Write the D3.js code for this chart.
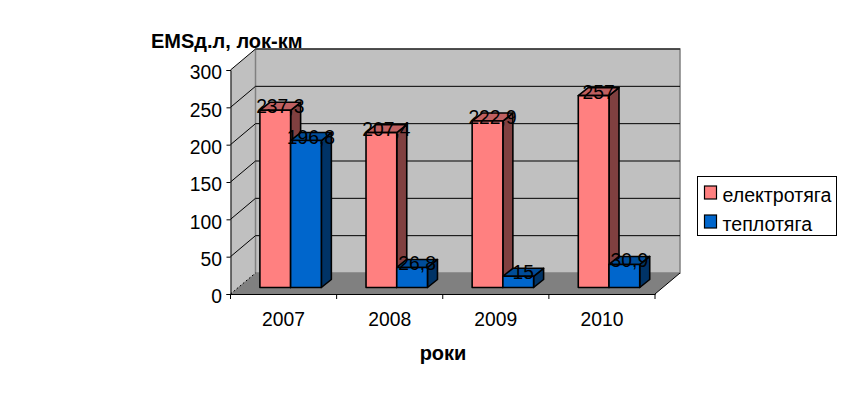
<!DOCTYPE html>
<html>
<head>
<meta charset="utf-8">
<script src="https://cdn.jsdelivr.net/npm/d3@7"></script>
<style>
    html, body { margin: 0; padding: 0; background: #fff; }
    svg { display: block; }
    text { font-family: "Liberation Sans", Arial, sans-serif; fill: #000; }
</style>
</head>
<body>
<div id="chart"></div>
<script>
const years = ['2007', '2008', '2009', '2010'];
const seriesNames = ['електротяга', 'теплотяга'];
const electric = [237.3, 207.4, 222.9, 257];
const diesel = [196.8, 26.8, 15, 30.9];
const electricLabels = ['237,3', '207,4', '222,9', '257'];
const dieselLabels = ['196,8', '26,8', '15', '30,9'];
const yTicks = [0, 50, 100, 150, 200, 250, 300];

const colors = {
    'електротяга': { front: '#ff8080', side: '#804040', top: '#c06060' },
    'теплотяга': { front: '#0066cc', side: '#003366', top: '#004d99' }
};

const width = 851, height = 410;
const fontSize = 19.3;
const legendFontSize = 19.6;
const titleFontSize = 20;

// depth of the box and of the bars
const wallDx = 25, wallDy = -21;
const barDx = 10, barDy = -8;

const svg = d3.select('#chart').append('svg')
    .attr('width', width)
    .attr('height', height);

const x = d3.scaleBand().domain(years).range([230.5, 655]);
const inner = d3.scaleBand().domain(seriesNames)
    .range([x.bandwidth() * 0.277, x.bandwidth() * 0.856]);
const y = d3.scaleLinear().domain([0, 300]).range([294, 70]);

const floorY = y(0);
const barBase = 287.5;
const barH = d => (y(0) - y(d));

const poly = pts => pts.map(p => p.join(',')).join(' ');

// walls and floor
const x0 = x.range()[0], x1 = x.range()[1];
svg.append('polygon')
    .attr('points', poly([[x0, y(300)], [x0 + wallDx, y(300) + wallDy], [x0 + wallDx, floorY + wallDy], [x0, floorY]]))
    .attr('fill', '#c0c0c0');
svg.append('rect')
    .attr('x', x0 + wallDx).attr('y', y(300) + wallDy)
    .attr('width', x1 - x0).attr('height', y(0) - y(300))
    .attr('fill', '#c0c0c0')
    .attr('stroke', '#808080').attr('stroke-width', 1.5);
svg.append('polygon')
    .attr('points', poly([[x0, floorY], [x0 + wallDx, floorY + wallDy], [x1 + wallDx, floorY + wallDy], [x1, floorY]]))
    .attr('fill', '#808080');

// grid lines run round the side wall and across the back
yTicks.filter(t => t > 0).forEach(t => {
    svg.append('polyline')
        .attr('points', poly([[x0, y(t)], [x0 + wallDx, y(t) + wallDy], [x1 + wallDx, y(t) + wallDy]]))
        .attr('fill', 'none').attr('stroke', '#000').attr('stroke-width', 1);
});
svg.append('line')
    .attr('x1', x0).attr('y1', floorY)
    .attr('x2', x0 + wallDx).attr('y2', floorY + wallDy)
    .attr('stroke', '#000').attr('stroke-dasharray', '2,2');
svg.append('line')
    .attr('x1', x1).attr('y1', floorY)
    .attr('x2', x1 + wallDx).attr('y2', floorY + wallDy)
    .attr('stroke', '#000');

// axes
const yAxis = d3.axisLeft(y).tickValues(yTicks).tickSize(4).tickPadding(4.5);
const xAxis = d3.axisBottom(x).tickSize(0).tickPadding(18);

const gy = svg.append('g').attr('transform', `translate(${x0},0)`).call(yAxis);
gy.selectAll('text').style('font-size', fontSize + 'px').attr('dy', '0.45em');
gy.selectAll('path, line').attr('stroke', '#000');

const gx = svg.append('g').attr('transform', `translate(0,${floorY})`).call(xAxis);
gx.select('.domain').attr('stroke', '#000');
gx.selectAll('text').style('font-size', fontSize + 'px');
[...years.map(d => x(d)), x1].forEach(px => {
    gx.append('line').attr('x1', px).attr('x2', px).attr('y1', 0).attr('y2', 5).attr('stroke', '#000');
});

// bars
const rows = [];
years.forEach((year, i) => {
    rows.push({ year, name: seriesNames[0], value: electric[i], label: electricLabels[i] });
    rows.push({ year, name: seriesNames[1], value: diesel[i], label: dieselLabels[i] });
});

const bars = svg.append('g').selectAll('g').data(rows).enter().append('g')
    .attr('stroke', '#000').attr('stroke-width', 1.6).attr('stroke-linejoin', 'round');

const barLeft = d => x(d.year) + inner(d.name);
const barTop = d => barBase - barH(d.value);
const w = inner.bandwidth();

bars.append('polygon')
    .attr('fill', d => colors[d.name].side)
    .attr('points', d => poly([[barLeft(d) + w, barTop(d)], [barLeft(d) + w + barDx, barTop(d) + barDy], [barLeft(d) + w + barDx, barBase + barDy], [barLeft(d) + w, barBase]]));
bars.append('polygon')
    .attr('fill', d => colors[d.name].top)
    .attr('points', d => poly([[barLeft(d), barTop(d)], [barLeft(d) + barDx, barTop(d) + barDy], [barLeft(d) + w + barDx, barTop(d) + barDy], [barLeft(d) + w, barTop(d)]]));
bars.append('rect')
    .attr('fill', d => colors[d.name].front)
    .attr('x', barLeft).attr('y', barTop)
    .attr('width', w).attr('height', d => barH(d.value));

// value labels go over everything
svg.append('g').selectAll('text').data(rows).enter().append('text')
    .attr('x', d => barLeft(d) + w / 2 + barDx / 2)
    .attr('y', d => barTop(d) + 3)
    .attr('text-anchor', 'middle')
    .style('font-size', fontSize + 'px')
    .text(d => d.label);

// titles
svg.append('text').attr('x', 151).attr('y', 48)
    .style('font-size', titleFontSize + 'px').style('font-weight', 'bold')
    .text('EMSд.л, лок-км');
svg.append('text').attr('x', 443).attr('y', 360).attr('text-anchor', 'middle')
    .style('font-size', titleFontSize + 'px').style('font-weight', 'bold')
    .text('роки');

// legend
const legend = svg.append('g');
legend.append('rect')
    .attr('x', 697.5).attr('y', 176.5).attr('width', 139).attr('height', 59)
    .attr('fill', '#fff').attr('stroke', '#000');
seriesNames.forEach((name, i) => {
    const ly = 186 + i * 29;
    legend.append('rect')
        .attr('x', 704.5).attr('y', ly).attr('width', 12).attr('height', 13)
        .attr('fill', colors[name].front).attr('stroke', '#000').attr('stroke-width', 1.2);
    legend.append('text').attr('x', 722.5).attr('y', ly + 16)
        .style('font-size', legendFontSize + 'px')
        .text(name);
});
</script>
</body>
</html>
